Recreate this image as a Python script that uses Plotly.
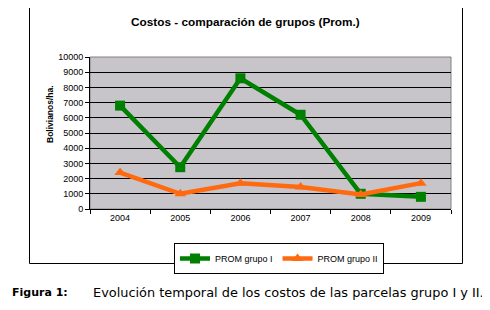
import plotly.graph_objects as go

years = ["2004", "2005", "2006", "2007", "2008", "2009"]
grupo_I = [6800, 2750, 8600, 6200, 1000, 800]
grupo_II = [2400, 1000, 1700, 1450, 950, 1700]
y_ticks = [0, 1000, 2000, 3000, 4000, 5000, 6000, 7000, 8000, 9000, 10000]
y_tick_labels = [str(v) for v in y_ticks]

OFF = 8  # default page body margin
W, H = 490 - OFF, 310 - OFF
L, R, T, B = 90 - OFF, 451 - OFF, 57 - OFF, 209 - OFF

def px(x):
    return (x - OFF - L) / (R - L)

def py(y):
    return (B - (y - OFF)) / (B - T)

fig = go.Figure()
fig.add_trace(go.Scatter(
    x=years, y=grupo_I, name="PROM grupo I", mode="lines+markers",
    line=dict(color="#008000", width=4.5),
    marker=dict(symbol="square", size=10, color="#008000"),
))
fig.add_trace(go.Scatter(
    x=years, y=grupo_II, name="PROM grupo II", mode="lines+markers",
    line=dict(color="#FF6A10", width=4.5),
    marker=dict(symbol="triangle-up", size=10, color="#FF6A10"),
))

font = "Liberation Sans, Arial, sans-serif"
fig.update_layout(
    width=W, height=H,
    margin=dict(l=L, r=W - R, t=T, b=H - B, pad=0, autoexpand=False),
    paper_bgcolor="white",
    plot_bgcolor="#C8C5CA",
    font=dict(family=font, size=9, color="black"),
    showlegend=True,
    legend=dict(
        orientation="h", x=px(174), y=py(243), xanchor="left", yanchor="top",
        bordercolor="black", borderwidth=1, bgcolor="white",
        font=dict(family=font, size=9, color="black"),
        itemwidth=30, tracegroupgap=0,
    ),
    xaxis=dict(
        type="category", showgrid=False, showline=True, linecolor="black",
        linewidth=1, ticks="outside", tickson="boundaries", ticklen=4,
        tickcolor="black", tickfont=dict(size=9), range=[-0.5, 5.5],
        automargin=False,
    ),
    yaxis=dict(
        range=[0, 10000], tickvals=y_ticks, ticktext=y_tick_labels,
        showgrid=True, gridcolor="black",
        gridwidth=1, showline=True, linecolor="black", linewidth=1,
        ticks="outside", ticklen=4, tickcolor="black", tickfont=dict(size=9),
        zeroline=False, automargin=False,
    ),
    annotations=[
        dict(text="<b>Costos - comparación de grupos (Prom.)</b>", xref="paper",
             yref="paper", x=px(245), y=py(22), xanchor="center", yanchor="middle",
             showarrow=False, font=dict(family=font, size=11.8)),
        dict(text="<b>Bolivianos/ha.</b>", xref="paper", yref="paper",
             x=px(50), y=py(114), xanchor="center", yanchor="middle",
             textangle=-90, showarrow=False, font=dict(family=font, size=8.5)),
        dict(text="<b>Figura 1:</b>", xref="paper", yref="paper",
             x=px(10), y=py(292), xanchor="left", yanchor="middle",
             showarrow=False, font=dict(family="DejaVu Sans", size=11)),
        dict(text="Evolución temporal de los costos de las parcelas grupo I y II.",
             xref="paper", yref="paper", x=px(91), y=py(292), xanchor="left",
             yanchor="middle", showarrow=False,
             font=dict(family="DejaVu Sans", size=12.9)),
    ],
    shapes=[
        dict(type="rect", xref="paper", yref="paper", x0=px(29.5), x1=px(462.5),
             y0=py(263.5), y1=py(5.5), line=dict(color="black", width=1),
             layer="below"),
        dict(type="rect", xref="paper", yref="paper", x0=0, x1=1, y0=0, y1=1,
             line=dict(color="#808080", width=1), layer="below"),
    ],
)

fig.write_html("out.html")
